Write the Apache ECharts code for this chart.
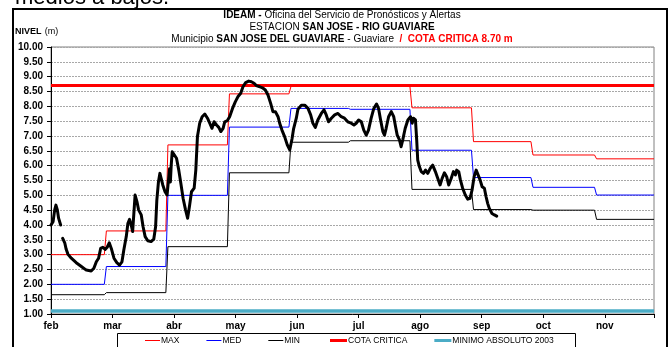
<!DOCTYPE html>
<html>
<head>
<meta charset="utf-8">
<script src="https://cdn.jsdelivr.net/npm/echarts@6/dist/echarts.min.js"></script>
<style>
  html, body { margin: 0; padding: 0; background: #fff; }
  #chart { width: 671px; height: 347px; }
</style>
</head>
<body>
<div id="chart"></div>
<script>
// Eje X: días contados desde el 1 de febrero, una marca cada 30 días
const meses = ['feb', 'mar', 'abr', 'may', 'jun', 'jul', 'ago', 'sep', 'oct', 'nov'];
const diaFinal = 294;

// Días en que cambian los niveles mensuales de referencia
const cambiosDias = [27, 57, 87, 117, 146, 176, 206, 235, 266];
const nivelMax = [3.00, 3.80, 6.70, 8.42, 8.67, 8.67, 7.95, 6.81, 6.36, 6.23];
const nivelMed = [2.00, 2.60, 5.00, 7.30, 7.93, 7.90, 6.52, 5.60, 5.27, 5.01];
const nivelMin = [1.65, 1.72, 3.27, 5.76, 6.79, 6.84, 5.20, 4.52, 4.50, 4.19];

const cotaCritica = 8.70;
const minimoAbsoluto = 1.10;

// Nivel registrado en la estación (null = sin dato)
const diasNivel = [
  0, 1.0, 1.8, 2.4, 3.1, 3.7, 4.7, null, 5.7, 6.7,
  7.4, 8.3, 9.9, 12.3, 14.8, 17.2, 19.6, 20.9, 22.1, 23.2,
  24.2, 25.3, 26.4, 27.4, 28.4, 29.4, 30.7, 32.1, 33.4, 34.6,
  35.5, 36.7, 37.5, 38.3, 39.1, 39.8, 40.4, 41.0, 41.9, 42.7,
  44.0, 44.9, 45.9, 47.2, 48.8, 50.1, 51.0, 51.6, 52.4, 53.1,
  53.7, 54.5, 55.6, 56.6, 57.3, 57.8, 58.2, 58.6, 59.1, 60.0,
  61.2, 62.3, 63.3, 64.4, 65.6, 66.6, 67.5, 68.5, 69.8, 70.6,
  71.4, 72.5, 73.7, 75.0, 76.3, 77.4, 78.5, 79.5, 80.7, 81.8,
  82.8, 83.9, 84.7, 86.0, 87.1, 88.5, 89.9, 91.2, 92.5, 93.6,
  94.9, 96.4, 97.7, 99.0, 100.1, 101.8, 103.4, 104.5, 105.8, 107.1,
  108.2, 109.4, 110.7, 111.5, 112.6, 113.9, 115.2, 116.4, 117.5, 118.3,
  119.6, 120.4, 122.1, 123.7, 125.3, 126.6, 127.7, 128.9, 130.1, 131.8,
  133.1, 134.2, 135.3, 136.7, 138.3, 139.9, 141.5, 143.1, 144.7, 146.4,
  147.7, 148.8, 150.0, 151.3, 152.5, 153.7, 154.8, 156.1, 157.4, 158.7,
  159.7, 160.7, 161.8, 162.6, 163.4, 164.6, 165.9, 167.1, 168.0, 168.8,
  169.9, 170.7, 171.5, 172.7, 174.0, 175.3, 176.1, 176.7, 177.7, 178.3,
  178.8, 179.6, 180.5, 181.6, 182.6, 183.7, 184.9, 186.1, 187.4, 188.6,
  189.7, 190.7, 191.8, 192.9, 193.9, 195.1, 196.2, 197.2, 197.8, 198.8,
  199.6, 200.7, 202.0, 203.2, 204.3, 205.3, 206.3, 207.3, 208.2, 209.2,
  210.2, 211.3, 212.1, 212.9, 213.7, 215.0, 216.2, 217.3
];
const nivelObservado = [
  4.00, 4.11, 4.51, 4.67, 4.51, 4.23, 4.00, null, 3.55, 3.40,
  3.18, 3.01, 2.88, 2.73, 2.60, 2.48, 2.45, 2.54, 2.76, 2.88,
  3.21, 3.25, 3.18, 3.25, 3.40, 3.21, 2.88, 2.73, 2.65, 2.76,
  3.16, 3.61, 4.06, 4.19, 4.00, 3.78, 4.39, 5.01, 4.79, 4.51,
  4.34, 3.94, 3.61, 3.47, 3.44, 3.52, 3.94, 4.84, 5.46, 5.74,
  5.57, 5.35, 5.12, 5.01, 5.07, 5.90, 5.45, 6.00, 6.47, 6.53,
  6.25, 5.85, 5.41, 4.90, 4.51, 4.23, 4.62, 5.12, 5.24, 5.85,
  6.98, 7.43, 7.65, 7.74, 7.60, 7.43, 7.26, 7.48, 7.37, 7.29,
  7.15, 7.26, 7.48, 7.52, 7.65, 7.93, 8.16, 8.33, 8.44, 8.66,
  8.80, 8.85, 8.83, 8.78, 8.70, 8.66, 8.61, 8.55, 8.38, 8.10,
  7.82, 7.82, 7.65, 7.43, 7.20, 6.98, 6.70, 6.53, 6.90, 7.25,
  7.60, 7.90, 8.04, 8.04, 7.93, 7.71, 7.43, 7.29, 7.54, 7.76,
  7.88, 7.71, 7.48, 7.60, 7.71, 7.76, 7.65, 7.60, 7.48, 7.43,
  7.37, 7.43, 7.54, 7.48, 7.20, 7.03, 7.20, 7.60, 7.93, 8.08,
  7.93, 7.54, 7.15, 7.03, 7.26, 7.65, 7.82, 7.65, 7.31, 7.03,
  6.87, 6.64, 6.87, 7.26, 7.54, 7.65, 7.43, 7.60, 7.54, 6.87,
  6.19, 5.97, 5.80, 5.74, 5.85, 5.74, 5.91, 6.02, 5.80, 5.57,
  5.35, 5.57, 5.76, 5.63, 5.35, 5.57, 5.80, 5.69, 5.85, 5.80,
  5.52, 5.24, 5.01, 4.87, 4.90, 5.18, 5.63, 5.85, 5.80, 5.52,
  5.29, 5.24, 4.96, 4.73, 4.56, 4.39, 4.34, 4.30
];

// Convierte niveles por tramo en una línea escalonada (transición de un día)
function escalones(niveles) {
  const pts = [[0, niveles[0]]];
  cambiosDias.forEach((d, i) => {
    pts.push([d - 1, niveles[i]]);
    pts.push([d, niveles[i + 1]]);
  });
  pts.push([diaFinal, niveles[niveles.length - 1]]);
  return pts;
}

const serieNivel = diasNivel.map((d, i) =>
  d === null ? ['-', '-'] : [d, nivelObservado[i]]
);

const fuente = '"Liberation Sans", Arial, sans-serif';
const chart = echarts.init(document.getElementById('chart'), null, { renderer: 'canvas' });

const colores = {
  max: '#ff0000', med: '#0000ff', min: '#000000',
  cota: '#ff0000', minimo: '#4bacc6', nivel: '#000000'
};

const lineaBase = (nombre, color, ancho, datos, z) => ({
  name: nombre,
  type: 'line',
  data: datos,
  symbol: 'none',
  showSymbol: false,
  silent: true,
  animation: false,
  z: z,
  lineStyle: { color: color, width: ancho },
  itemStyle: { color: color }
});

// Leyenda en dos grupos (trazos finos y trazos gruesos) dentro de un mismo recuadro
const leyendaComun = {
  top: 336,
  padding: 0,
  itemGap: 27,
  itemWidth: 15,
  icon: 'rect',
  textStyle: { fontFamily: fuente, fontSize: 8.5, color: '#000', padding: [0, 0, 0, -4] },
  selectedMode: false
};
const itemLeyenda = (nombre, color) => ({ name: nombre, itemStyle: { color: color, borderWidth: 0 } });

chart.setOption({
  backgroundColor: '#fff',
  animation: false,
  textStyle: { fontFamily: fuente },
  title: {
    left: 342,
    top: 9,
    padding: 0,
    textAlign: 'center',
    text: '{b|IDEAM -} {n|Oficina del Servicio de Pronósticos y Alertas}\n' +
          '{n|ESTACION} {b|SAN JOSE - RIO GUAVIARE}\n' +
          '{n|Municipio} {b|SAN JOSE DEL GUAVIARE} {n|- Guaviare}  {r|/  COTA CRITICA 8.70 m}',
    textStyle: {
      fontFamily: fuente,
      fontSize: 10,
      fontWeight: 'normal',
      lineHeight: 12,
      rich: {
        b: { fontFamily: fuente, fontSize: 10, fontWeight: 'bold', color: '#000', lineHeight: 12 },
        n: { fontFamily: fuente, fontSize: 10, fontWeight: 'normal', color: '#000', lineHeight: 12 },
        r: { fontFamily: fuente, fontSize: 10, fontWeight: 'bold', color: '#ff0000', lineHeight: 12 }
      }
    }
  },
  legend: [
    Object.assign({}, leyendaComun, {
      left: 145,
      itemHeight: 1,
      data: [
        itemLeyenda('MAX', colores.max),
        itemLeyenda('MED', colores.med),
        itemLeyenda('MIN', colores.min)
      ]
    }),
    Object.assign({}, leyendaComun, {
      left: 330,
      itemHeight: 3,
      itemWidth: 17,
      data: [
        itemLeyenda('COTA CRITICA', colores.cota),
        itemLeyenda('MINIMO ABSOLUTO 2003', colores.minimo)
      ]
    })
  ],
  grid: { left: 51, right: 17, top: 47, bottom: 33, show: true, borderColor: '#808080', borderWidth: 1 },
  xAxis: {
    type: 'value',
    min: 0,
    max: diaFinal,
    interval: 30,
    axisLine: { show: true, lineStyle: { color: '#000', width: 1 } },
    axisTick: { show: true, length: 4, lineStyle: { color: '#000' } },
    splitLine: { show: false },
    axisLabel: {
      margin: 7,
      fontFamily: fuente,
      fontSize: 10,
      fontWeight: 'bold',
      color: '#000',
      formatter: v => (v % 30 === 0 && v / 30 < meses.length) ? meses[v / 30] : ''
    }
  },
  yAxis: {
    type: 'value',
    min: 1,
    max: 10,
    interval: 0.5,
    axisLine: { show: true, lineStyle: { color: '#000', width: 1 } },
    axisTick: { show: true, length: 4, lineStyle: { color: '#000' } },
    splitLine: { show: true, lineStyle: { color: '#a8a8a8', width: 1, type: [2, 1] } },
    axisLabel: {
      margin: 8,
      fontFamily: fuente,
      fontSize: 10,
      fontWeight: 'bold',
      color: '#000',
      formatter: v => v.toFixed(2)
    }
  },
  graphic: [
    {
      type: 'rect',
      shape: { x: 13, y: 9, width: 654, height: 360 },
      style: { fill: 'none', stroke: '#000', lineWidth: 2 },
      silent: true,
      z: 100
    },
    {
      type: 'rect',
      shape: { x: 117.5, y: 333.5, width: 458, height: 30 },
      style: { fill: 'none', stroke: '#000', lineWidth: 1 },
      silent: true
    },
    {
      type: 'text',
      left: 15,
      top: -13,
      style: { text: 'medios a bajos.', font: '22px ' + fuente, fill: '#000' },
      silent: true
    },
    {
      type: 'text',
      left: 15,
      top: 26,
      style: {
        text: '{b|NIVEL} {n|(m)}',
        rich: {
          b: { fontFamily: fuente, fontSize: 9, fontWeight: 'bold', fill: '#000' },
          n: { fontFamily: fuente, fontSize: 9, fontWeight: 'normal', fill: '#000' }
        }
      },
      silent: true
    }
  ],
  series: [
    lineaBase('MAX', colores.max, 1, escalones(nivelMax), 2),
    lineaBase('MED', colores.med, 1, escalones(nivelMed), 2),
    lineaBase('MIN', colores.min, 1, escalones(nivelMin), 2),
    lineaBase('COTA CRITICA', colores.cota, 3, [[0, cotaCritica], [diaFinal, cotaCritica]], 3),
    lineaBase('MINIMO ABSOLUTO 2003', colores.minimo, 3.5, [[0, minimoAbsoluto], [diaFinal, minimoAbsoluto]], 3),
    Object.assign(lineaBase('NIVEL', colores.nivel, 3, serieNivel, 5), {
      connectNulls: false,
      lineStyle: { color: colores.nivel, width: 3, cap: 'round', join: 'round' }
    })
  ]
});
</script>
</body>
</html>
